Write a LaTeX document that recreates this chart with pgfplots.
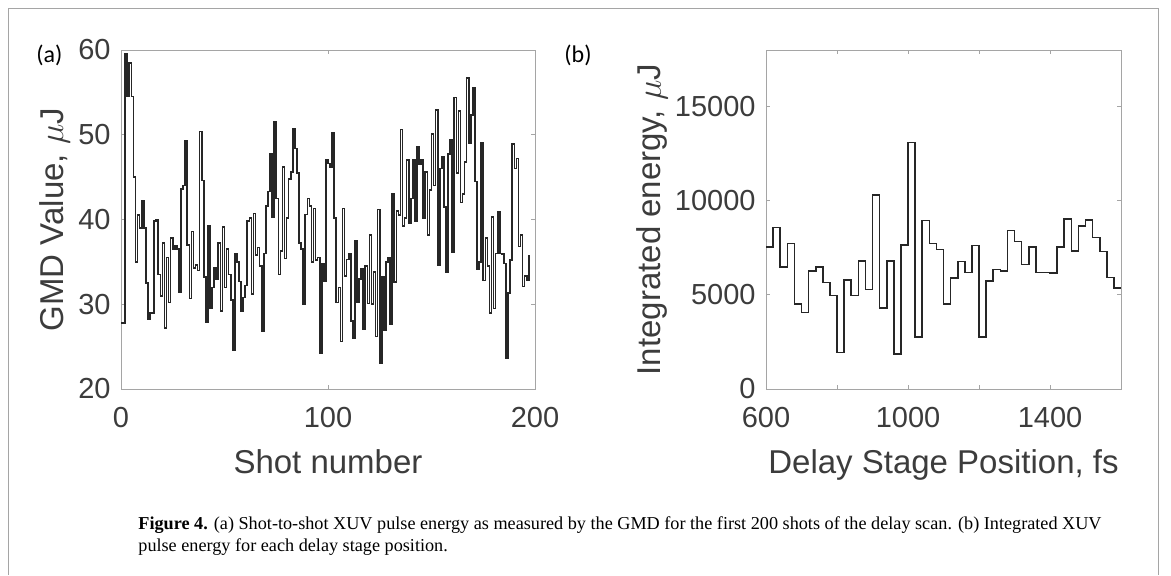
\documentclass[border=0pt]{standalone}
\usepackage{fontspec}
\setmainfont{Liberation Sans}
\newfontfamily\capfont{Liberation Serif}
\newfontfamily\labfont{Carlito}
\usepackage{pgfplots}
\pgfplotsset{compat=1.18}
\usepackage{pgfplotstable}

\definecolor{txt}{RGB}{60,60,60}
\definecolor{boxc}{RGB}{165,165,165}
\definecolor{linec}{RGB}{38,38,38}

% GMD value per shot
\pgfplotstableread{
x y
0 27.8
1 27.8
2 59.5
3 54.5
4 58.5
5 54.5
6 45
7 35
8 40.5
9 39
10 42.2
11 39
12 32.5
13 28.2
14 29
15 29
16 39.8
17 40
18 33.5
19 31
20 37.2
21 27.2
22 35.5
23 30.2
24 37.8
25 36.5
26 36.9
27 36.5
28 31.4
29 43.6
30 44
31 49.3
32 37
33 30.7
34 38.6
35 34.3
36 34.6
37 34
38 50.4
39 44.6
40 33.2
41 27.9
42 39.2
43 29.5
44 32
45 34.3
46 33
47 37.2
48 29.2
49 39.1
50 32
51 36.5
52 33.5
53 30.5
54 24.6
55 36
56 35
57 32.7
58 29.2
59 30.8
60 32.2
61 39.8
62 40.2
63 31.2
64 40.7
65 35.8
66 36.7
67 34.5
68 26.8
69 36
70 41.6
71 43.3
72 47.7
73 40.3
74 51.5
75 42.5
76 33.5
77 36.3
78 46.2
79 35.4
80 40.2
81 44.8
82 45.6
83 50.7
84 48.4
85 45.5
86 37.2
87 36.5
88 30
89 40.6
90 42.5
91 41.6
92 35
93 41.3
94 35.2
95 35.5
96 24.2
97 34.8
98 32.7
99 47.1
100 46.6
101 46.2
102 50.2
103 40.2
104 30.2
105 32
106 25.6
107 41.3
108 33.3
109 35.3
110 36
111 28
112 26
113 37.5
114 30.2
115 33
116 34.2
117 27.1
118 34.5
119 30.1
120 38.2
121 30
122 33.8
123 26.2
124 41.2
125 23
126 33.2
127 26.9
128 35
129 35.5
130 27.7
131 43
132 32.6
133 41
134 40.5
135 50.6
136 39.2
137 40.2
138 47
139 39.6
140 42.5
141 47
142 39.8
143 48.6
144 46.5
145 47
146 40.1
147 45.6
148 38.2
149 43.5
150 50.1
151 44
152 52.9
153 34.6
154 46
155 47.4
156 41.5
157 33.8
158 47.7
159 49.4
160 36.2
161 54.4
162 45.5
163 52.8
164 42
165 43
166 46.8
167 56.7
168 49
169 52.3
170 55.5
171 44.5
172 34.1
173 35
174 49
175 32.8
176 37.8
177 34.5
178 29
179 40.3
180 29.5
181 36
182 40.9
183 36
184 35.9
185 34.8
186 23.6
187 31.3
188 35.2
189 48.9
190 46
191 47.2
192 36.8
193 38.2
194 32.1
195 33.3
196 32.8
197 35.8
}\gmd

% integrated energy per delay step (panel b)
\pgfplotstableread{
x y
600 7550
620 8580
640 6490
660 7730
680 4500
700 4060
720 6280
740 6490
760 5650
780 4960
800 1940
820 5790
840 4960
860 6810
880 5290
900 10290
920 4290
940 6810
960 1870
980 7640
1000 13080
1020 2750
1040 8950
1060 7730
1080 7410
1100 4520
1120 5880
1140 6760
1160 6190
1180 7610
1200 2750
1220 5750
1240 6350
1260 6280
1280 8420
1300 7840
1320 6620
1340 7550
1360 6190
1380 6190
1400 6160
1420 7550
1440 9040
1460 7320
1480 8650
1500 8980
1520 8050
1540 7310
1560 5930
1580 5350
1600 5350
}\energy

\pgfplotsset{
  panel/.style={
    scale only axis,
    height=169.5pt,
    axis line style={boxc, line width=0.5pt},
    tick style={boxc, line width=0.5pt},
    major tick length=2pt,
    tick align=inside,
    every tick label/.append style={font=\fontsize{14.5}{17}\selectfont, text=txt, inner sep=1pt},
    /pgf/number format/assume math mode=true,
    /pgf/number format/1000 sep={},
    scaled ticks=false,
    xticklabel style={yshift=-8pt},
    yticklabel style={xshift=-4pt},
    label style={font=\fontsize{16.5}{19}\selectfont, text=txt},
    xlabel style={at={(axis description cs:0.5,-0.25)}, anchor=base},
    clip=false,
  },
}

\begin{document}
\begin{tikzpicture}
\path[use as bounding box] (0,0) rectangle (585.5pt,287.5pt);
\draw[boxc, line width=0.5pt] (4pt,0) -- (4pt,283.5pt) -- (579pt,283.5pt) -- (579pt,0);

\node[anchor=west, inner sep=0pt, text=black, font=\labfont\fontsize{12}{14}\selectfont] at (18pt,260pt) {(a)};
\node[anchor=west, inner sep=0pt, text=black, font=\labfont\fontsize{12}{14}\selectfont] at (282pt,260pt) {(b)};

\begin{axis}[panel,
  at={(60.5pt,93pt)}, anchor=south west,
  width=207pt,
  xmin=0, xmax=200, ymin=20, ymax=60,
  xtick={0,100,200}, ytick={20,30,40,50,60},
  xlabel={Shot number},
  ylabel={GMD Value, $\mu$J},
  ylabel style={at={(axis description cs:-0.140,0.5)}, anchor=base},
]
\addplot[const plot mark left, color=linec, line width=0.8pt] table {\gmd};
\end{axis}

\begin{axis}[panel,
  at={(383pt,93pt)}, anchor=south west,
  width=177.5pt,
  xmin=600, xmax=1600, ymin=0, ymax=18000,
  xtick={600,800,1000,1200,1400,1600},
  xticklabels={600,,1000,,1400,},
  ytick={0,5000,10000,15000},
  xlabel={Delay Stage Position, fs},
  ylabel={Integrated energy, $\mu$J},
  ylabel style={at={(axis description cs:-0.296,0.5)}, anchor=base},
]
\addplot[const plot mark left, color=linec, line width=0.8pt] table {\energy};
\end{axis}

\begin{scope}[every node/.style={anchor=base west, inner sep=0pt, text=black, font=\capfont\fontsize{9.1}{11}\selectfont}]
\node at (69pt,23pt) {\textbf{Figure 4.} (a) Shot-to-shot XUV pulse energy as measured by the GMD for the first 200 shots of the delay scan. (b) Integrated XUV};
\node at (69pt,12pt) {pulse energy for each delay stage position.};
\end{scope}
\end{tikzpicture}
\end{document}
